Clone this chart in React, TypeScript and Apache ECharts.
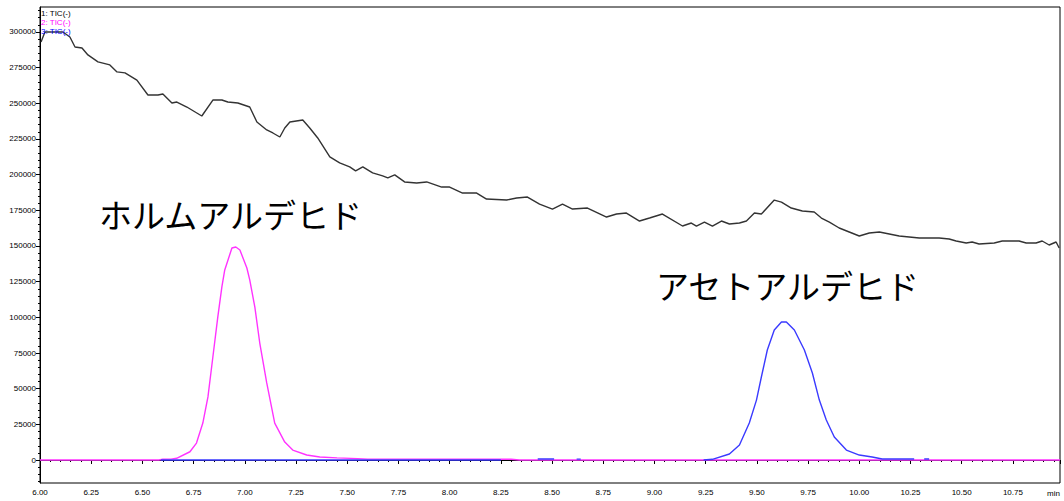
import React, { useEffect, useRef } from "react";
import * as echarts from "echarts";

// retention time (min), intensity
const ticSeries1: [number, number][] = [
  [6.005, 293000], [6.024, 300000], [6.112, 300000], [6.146, 296500], [6.171, 289500],
  [6.205, 288800], [6.234, 283900], [6.283, 279000], [6.341, 276900], [6.376, 272000],
  [6.415, 271300], [6.473, 266300], [6.527, 255800], [6.576, 255800], [6.6, 256500],
  [6.644, 250200], [6.668, 250900], [6.717, 247400], [6.79, 241100], [6.844, 252300],
  [6.888, 252300], [6.917, 250900], [6.966, 250200], [7.024, 247400], [7.059, 236900],
  [7.107, 231300], [7.137, 229200], [7.171, 226400], [7.195, 232700], [7.22, 236900],
  [7.283, 238300], [7.317, 232700], [7.356, 225700], [7.415, 212400], [7.463, 208200],
  [7.512, 205400], [7.541, 202600], [7.576, 205400], [7.624, 201200], [7.673, 199100],
  [7.698, 197700], [7.732, 199800], [7.78, 194900], [7.839, 194200], [7.888, 194900],
  [7.961, 191300], [8.0, 191300], [8.063, 187100], [8.132, 187100], [8.18, 182900],
  [8.278, 182200], [8.327, 183600], [8.38, 184300], [8.439, 179400], [8.502, 175900],
  [8.551, 179400], [8.6, 175900], [8.673, 176600], [8.766, 170300], [8.815, 172400],
  [8.863, 173100], [8.927, 167500], [8.976, 169600], [9.039, 172400], [9.137, 164000],
  [9.18, 166100], [9.205, 164000], [9.244, 166800], [9.283, 164000], [9.327, 167500],
  [9.366, 165400], [9.415, 166100], [9.449, 167500], [9.488, 173100], [9.522, 172400],
  [9.585, 182200], [9.62, 180800], [9.668, 176600], [9.722, 174500], [9.78, 173800],
  [9.815, 169600], [9.854, 166800], [9.902, 162600], [9.951, 159800], [10.0, 157000],
  [10.049, 159100], [10.098, 159800], [10.195, 157000], [10.293, 155600], [10.39, 155600],
  [10.439, 154900], [10.473, 153500], [10.522, 152100], [10.551, 152800], [10.585, 151400],
  [10.659, 152100], [10.698, 153500], [10.78, 153500], [10.815, 152100], [10.863, 152100],
  [10.893, 153500], [10.927, 150700], [10.961, 152800], [10.976, 148600],
];

const ticSeries2: [number, number][] = [
  [6.0, 0], [6.58, 0], [6.6, 500], [6.64, 600], [6.667, 1200], [6.732, 5800],
  [6.764, 11900], [6.795, 25900], [6.82, 44200], [6.844, 72200], [6.868, 100200],
  [6.888, 121300], [6.902, 133200], [6.937, 148600], [6.956, 149300], [6.976, 147200],
  [7.01, 134600], [7.024, 126200], [7.049, 107200], [7.073, 82000], [7.107, 54000],
  [7.146, 25900], [7.195, 12600], [7.234, 7000], [7.302, 3500], [7.366, 2100],
  [7.45, 1500], [7.55, 1000], [7.6, 600], [8.3, 500], [8.34, 0], [10.98, 0],
];

const ticSeries3: [number, number | string][] = [
  [6.59, 0], [8.25, 0], [8.3, "-"],
  [8.43, 700], [8.51, 700], [8.55, "-"],
  [8.62, 600], [8.64, 600], [8.7, "-"],
  [9.24, 0], [9.283, 500], [9.366, 4200], [9.415, 10500], [9.463, 25900], [9.498, 42000],
  [9.522, 58200], [9.551, 77100], [9.585, 91100], [9.62, 96700], [9.644, 96700],
  [9.683, 91100], [9.732, 77100], [9.771, 61000], [9.805, 42000], [9.839, 28000],
  [9.878, 16100], [9.937, 7000], [10.0, 3500], [10.063, 2100], [10.112, 700],
  [10.268, 700], [10.29, "-"], [10.317, 700], [10.341, 700],
];

const yLabelValues: number[] = [0, 25000, 50000, 75000, 100000, 125000, 150000, 175000, 200000, 225000, 250000, 275000, 300000];
const traceNames: string[] = ["1: TIC(-)", "2: TIC(-)", "3: TIC(-)"];
const compoundNames: string[] = ["ホルムアルデヒド", "アセトアルデヒド"];

const X_MIN = 6;
const X_MAX = 10.98;
const Y_MIN = -16100;
const Y_MAX = 317500;

export default function App() {
  const ref = useRef<HTMLDivElement>(null);
  useEffect(() => {
    if (!ref.current) return;
    const chart = echarts.init(ref.current, null, { renderer: "svg" });
    const minorY: number[] = [];
    for (let v = -15000; v <= 315000; v += 5000) minorY.push(v);
    const axisFont = { fontFamily: "Liberation Sans", fontSize: 8, color: "#000" };
    const colors = ["#333333", "#ff33ff", "#3a3aff"];
    chart.setOption({
      animation: false,
      backgroundColor: "#fff",
      grid: { left: 40, right: 4, top: 7, bottom: 18, show: true, borderColor: "#000", borderWidth: 1, backgroundColor: "transparent" },
      xAxis: {
        type: "value",
        min: X_MIN,
        max: X_MAX,
        interval: 0.25,
        axisLine: { show: true, lineStyle: { color: "#000", width: 1 } },
        axisTick: { show: true, length: 4, lineStyle: { color: "#000" } },
        minorTick: { show: true, splitNumber: 5, length: 2, lineStyle: { color: "#000" } },
        splitLine: { show: false },
        axisLabel: {
          ...axisFont,
          margin: 5,
          showMaxLabel: false,
          formatter: (v: number) => (v > X_MAX - 0.05 ? "" : v.toFixed(2)),
        },
      },
      yAxis: [
        {
          type: "value",
          min: Y_MIN,
          max: Y_MAX,
          axisLine: { show: true, lineStyle: { color: "#000", width: 1 } },
          axisTick: { show: true, length: 4, customValues: yLabelValues, lineStyle: { color: "#000" } },
          axisLabel: { ...axisFont, margin: 4, customValues: yLabelValues, formatter: (v: number) => String(v) },
          splitLine: { show: false },
        },
        {
          type: "value",
          min: Y_MIN,
          max: Y_MAX,
          position: "left",
          axisLine: { show: false },
          axisTick: { show: true, length: 2, customValues: minorY, lineStyle: { color: "#000" } },
          axisLabel: { show: false },
          splitLine: { show: false },
        },
      ],
      series: [ticSeries1, ticSeries2, ticSeries3].map((d, i) => ({
        name: traceNames[i],
        type: "line",
        yAxisIndex: 0,
        data: d,
        showSymbol: false,
        symbol: "none",
        connectNulls: false,
        lineStyle: { color: colors[i], width: 1.4 },
        z: 2 + i,
      })),
      graphic: [
        ...traceNames.map((t, i) => ({
          type: "text",
          left: 41,
          top: 9 + i * 9,
          style: { text: t, fill: ["#000", "#ff00ff", "#0000ff"][i], fontSize: 8, fontFamily: "Liberation Sans" },
          z: 10,
        })),
        {
          type: "text",
          left: 1047,
          top: 489,
          style: { text: "min", fill: "#000", fontSize: 8, fontFamily: "Liberation Sans" },
        },
        {
          type: "text",
          left: 99,
          top: 197,
          style: { text: compoundNames[0], fill: "#000", fontSize: 33, fontFamily: "Noto Sans CJK JP" },
        },
        {
          type: "text",
          left: 656,
          top: 268,
          style: { text: compoundNames[1], fill: "#000", fontSize: 33, fontFamily: "Noto Sans CJK JP" },
        },
      ],
    });
    return () => chart.dispose();
  }, []);
  return <div ref={ref} style={{ position: "fixed", left: 0, top: 0, width: 1064, height: 501, background: "#fff" }} />;
}
